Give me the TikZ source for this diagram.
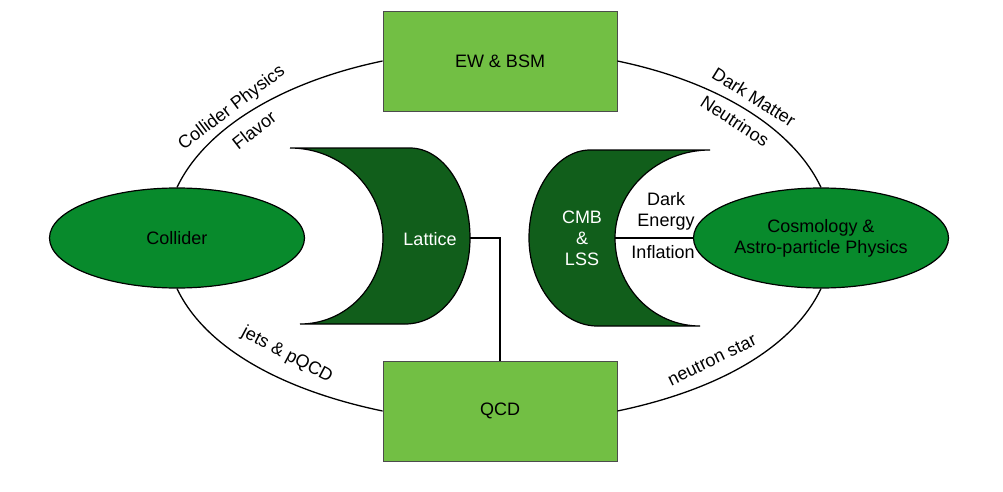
\documentclass[tikz,border=0pt]{standalone}
\usepackage{fontspec}
\setmainfont{Liberation Sans}
\usetikzlibrary{shapes.geometric}
\definecolor{boxgreen}{RGB}{114,191,68}
\definecolor{ovalgreen}{RGB}{8,138,44}
\definecolor{moongreen}{RGB}{17,94,27}
\tikzset{
  every node/.style={font=\fontsize{18}{21}\selectfont},
  topic/.style={draw=black!70, line width=0.8pt, fill=boxgreen, minimum width=234, minimum height=100, inner sep=0},
  field/.style={ellipse, draw, line width=1.2pt, fill=ovalgreen, minimum width=255, minimum height=100, inner sep=0, align=center},
  moon/.style={draw, line width=1.2pt, fill=moongreen},
  link/.style={line width=1.3pt},
}
\begin{document}
\begin{tikzpicture}[x=1pt, y=-1pt]
            \useasboundingbox (0,0) rectangle (1003,492);
            % boxes and ovals
            \node[topic] (ew) at (500, 61) {EW \& BSM};
            \node[topic] (qcd) at (500, 411) {QCD};
            \node[field] (collider) at (177, 238) {Collider};
            \node[field] (cosmo) at (821, 238) {Cosmology \&\\Astro-particle Physics};
            % the two moons
            \draw[moon] (290,148) -- (410,148) .. controls (443,148) and (470,188) .. (470,238)
                .. controls (470,288) and (441,324) .. (405,324) -- (300,324)
                .. controls (346,324) and (383,286) .. (383,238)
                .. controls (383,188) and (341,148) .. (290,148);
            \draw[moon] (710,150) -- (590,150) .. controls (557,150) and (529,190) .. (529,238)
                .. controls (529,287) and (562,326) .. (597,326) -- (700,326)
                .. controls (653,326) and (615,287) .. (615,238)
                .. controls (615,190) and (658,150) .. (710,150);
            \node[text=white] (lattice) at (430, 239) {Lattice};
            \node[text=white, align=center] (cmb) at (582, 238) {CMB\\\&\\LSS};
            \coordinate (latR) at (470, 238);
            \coordinate (cmbR) at (615, 238);
            % the big ring
            \draw[link] (collider.north) .. controls +(28,-59) and +(-101,21) .. (ew.west);
            \draw[link] (ew.east) .. controls +(101,21) and +(-28,-59) .. (cosmo.north);
            \draw[link] (collider.south) .. controls +(28,59) and +(-101,-21) .. (qcd.west);
            \draw[link] (qcd.east) .. controls +(101,-21) and +(-28,59) .. (cosmo.south);
            \draw[link] (latR) -| (qcd.north);
            \draw[link] (cmbR) -- (cosmo.west);
            % labels
            \node[rotate=37] (colphys) at (232, 108) {Collider Physics};
            \node[rotate=38] (flavor) at (254, 130) {Flavor};
            \node[rotate=-32] (dm) at (754, 97) {Dark Matter};
            \node[rotate=-33] (nu) at (735, 121) {Neutrinos};
            \node[rotate=-28] (jets) at (287, 355) {jets \& pQCD};
            \node[rotate=26] (nstar) at (712, 360) {neutron star};
            \node[align=center] (de) at (666, 211) {Dark\\Energy};
            \node (infl) at (663, 252) {Inflation};
        \end{tikzpicture}
\end{document}
